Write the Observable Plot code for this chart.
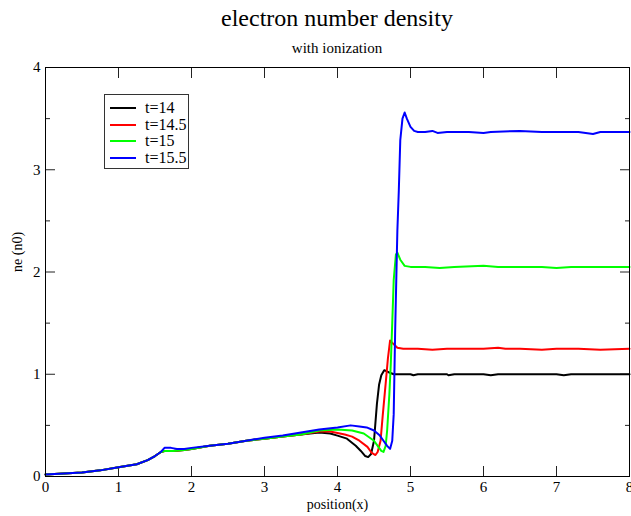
<!DOCTYPE html>
<html>
<head>
<meta charset="utf-8">
<script src="https://cdn.jsdelivr.net/npm/d3@7"></script>
<script src="https://cdn.jsdelivr.net/npm/@observablehq/plot@0.6"></script>
<style>
  body { margin: 0; background: #fff; font-family: 'Liberation Serif', 'Times New Roman', serif; }
  #wrap { position: relative; width: 631px; height: 516px; overflow: hidden; }
  #title { position: absolute; left: 45px; width: 584px; top: 4px; text-align: center; font-size: 24px; line-height: 28px; color: #000; }
  #subtitle { position: absolute; left: 45px; width: 584px; top: 39px; text-align: center; font-size: 15px; line-height: 18px; color: #000; }
  #chart { position: absolute; left: 0; top: 60px; }
  #legend { position: absolute; left: 104px; top: 94px; width: 85px; height: 75px; border: 1px solid #333; background: #fff; box-sizing: border-box; }
  .row { position: absolute; left: 0; height: 16px; width: 85px; }
  .sw { position: absolute; left: 5px; width: 26px; height: 2px; top: 7px; }
  .lb { position: absolute; left: 40px; top: -1px; font-family: 'Liberation Serif', 'Times New Roman', serif; font-size: 16px; line-height: 18px; color: #000; white-space: nowrap; }
</style>
</head>
<body>
<div id="wrap">
  <div id="title">electron number density</div>
  <div id="subtitle">with ionization</div>
  <div id="chart"></div>
  <div id="legend"></div>
</div>
<script>
// ---- data ----
const series = ["t=14", "t=14.5", "t=15", "t=15.5"];
const colors = ["#000000", "#ff0000", "#00ff00", "#0000ff"];
const xTicks = [0, 1, 2, 3, 4, 5, 6, 7, 8];
const yTicks = [0, 1, 2, 3, 4];
const yMinor = [0.5, 1.5, 2.5, 3.5];

// common rising part (all times)
const xBase = [0, 0.25, 0.5, 0.75, 1.0, 1.25, 1.4, 1.5, 1.58];
const nBase = [0.02, 0.03, 0.04, 0.06, 0.09, 0.12, 0.16, 0.20, 0.24];

// middle part, t = 14, 14.5, 15
const xMid = [1.63, 1.75, 1.9, 2.0, 2.25, 2.5, 2.75, 3.0, 3.25, 3.5];
const nMid = [0.25, 0.25, 0.26, 0.27, 0.30, 0.32, 0.35, 0.37, 0.39, 0.41];
// middle part, t = 15.5
const xMidB = [1.63, 1.72, 1.8, 1.9, 2.0, 2.25, 2.5, 2.75, 3.0, 3.25, 3.5];
const nMidB = [0.28, 0.28, 0.27, 0.27, 0.28, 0.30, 0.32, 0.35, 0.38, 0.40, 0.43];

// shock region and plateau
const x14 = [3.75, 3.9, 4.0, 4.13, 4.25, 4.32, 4.38, 4.42, 4.46, 4.50, 4.54, 4.57, 4.60, 4.64, 4.70, 4.77, 5.0, 5.04, 5.1, 5.3, 5.5, 5.52, 5.6, 6.0, 6.1, 6.2, 6.5, 7.0, 7.1, 7.2, 7.5, 8.0];
const n14 = [0.43, 0.42, 0.40, 0.37, 0.30, 0.25, 0.20, 0.19, 0.22, 0.35, 0.71, 0.90, 0.99, 1.04, 1.02, 1.00, 1.00, 0.99, 1.00, 1.00, 1.00, 0.99, 1.00, 1.00, 0.99, 1.00, 1.00, 1.00, 0.99, 1.00, 1.00, 1.00];

const x145 = [3.75, 3.9, 4.1, 4.2, 4.3, 4.41, 4.47, 4.52, 4.55, 4.59, 4.62, 4.66, 4.69, 4.72, 4.76, 4.82, 4.9, 5.1, 5.3, 5.5, 5.7, 6.0, 6.2, 6.3, 6.5, 6.8, 7.0, 7.3, 7.6, 8.0];
const n145 = [0.44, 0.44, 0.41, 0.39, 0.35, 0.29, 0.23, 0.21, 0.24, 0.35, 0.60, 0.91, 1.15, 1.33, 1.30, 1.26, 1.25, 1.25, 1.24, 1.25, 1.25, 1.25, 1.26, 1.25, 1.25, 1.24, 1.25, 1.25, 1.24, 1.25];

const x15 = [3.75, 4.0, 4.2, 4.36, 4.5, 4.56, 4.6, 4.63, 4.66, 4.68, 4.71, 4.73, 4.75, 4.77, 4.80, 4.82, 4.86, 4.92, 5.0, 5.2, 5.4, 5.6, 6.0, 6.2, 6.5, 6.8, 7.0, 7.2, 7.5, 8.0];
const n15 = [0.45, 0.46, 0.45, 0.42, 0.35, 0.29, 0.25, 0.24, 0.30, 0.45, 0.80, 1.10, 1.50, 1.92, 2.17, 2.19, 2.12, 2.06, 2.05, 2.05, 2.04, 2.05, 2.06, 2.05, 2.05, 2.05, 2.04, 2.05, 2.05, 2.05];

const x155 = [3.75, 4.0, 4.18, 4.3, 4.4, 4.5, 4.58, 4.63, 4.68, 4.72, 4.75, 4.77, 4.79, 4.82, 4.84, 4.86, 4.89, 4.92, 4.95, 5.0, 5.05, 5.1, 5.2, 5.3, 5.37, 5.5, 5.6, 5.8, 6.0, 6.1, 6.5, 6.8, 7.0, 7.3, 7.5, 7.6, 8.0];
const n155 = [0.46, 0.48, 0.50, 0.49, 0.48, 0.45, 0.40, 0.35, 0.30, 0.27, 0.35, 0.61, 1.43, 2.40, 2.80, 3.29, 3.50, 3.56, 3.50, 3.42, 3.38, 3.37, 3.37, 3.38, 3.36, 3.37, 3.37, 3.37, 3.36, 3.37, 3.38, 3.37, 3.37, 3.37, 3.35, 3.37, 3.37];

const xs = [
  [...xBase, ...xMid, ...x14],
  [...xBase, ...xMid, ...x145],
  [...xBase, ...xMid, ...x15],
  [...xBase, ...xMidB, ...x155]
];
const ns = [
  [...nBase, ...nMid, ...n14],
  [...nBase, ...nMid, ...n145],
  [...nBase, ...nMid, ...n15],
  [...nBase, ...nMidB, ...n155]
];

const rows = series.flatMap((s, i) => xs[i].map((x, j) => ({x, n: ns[i][j], s})));

const chart = Plot.plot({
  width: 631,
  height: 456,
  marginLeft: 45,
  marginRight: 2,
  marginTop: 7,
  marginBottom: 40,
  x: {domain: [0, 8]},
  y: {domain: [0, 4]},
  color: {domain: series, range: colors},
  style: {fontFamily: "'Liberation Serif', 'Times New Roman', serif", fontSize: "15px", color: "#000", background: "#fff", overflow: "visible"},
  marks: [
    Plot.axisX({ticks: xTicks, tickSize: 0, tickPadding: 5, label: null, tickFormat: d => String(d)}),
    Plot.axisX({ticks: xTicks, tickSize: -10, text: null, label: null, stroke: "#222"}),
    Plot.axisX({anchor: "top", ticks: xTicks, tickSize: -10, text: null, label: null, stroke: "#222"}),
    Plot.axisY({ticks: yTicks, tickSize: 0, tickPadding: 5, label: null, tickFormat: d => String(d)}),
    Plot.axisY({ticks: yTicks, tickSize: -10, text: null, label: null, stroke: "#222"}),
    Plot.axisY({ticks: yMinor, tickSize: -5, text: null, label: null, stroke: "#222"}),
    Plot.axisY({anchor: "right", ticks: yTicks, tickSize: -10, text: null, label: null, stroke: "#222"}),
    Plot.axisY({anchor: "right", ticks: yMinor, tickSize: -5, text: null, label: null, stroke: "#222"}),
    Plot.line(rows, {x: "x", y: "n", z: "s", stroke: "s", strokeWidth: 2, strokeLinejoin: "round"}),
    Plot.frame({stroke: "#000", strokeWidth: 1}),
    Plot.text(["position(x)"], {frameAnchor: "bottom", dy: 32, fontSize: 14}),
    Plot.text(["ne (n0)"], {frameAnchor: "left", dx: -28, rotate: -90, fontSize: 14})
  ]
});
document.getElementById("chart").appendChild(chart);

// legend
const legend = document.getElementById("legend");
series.forEach((s, i) => {
  const row = document.createElement("div");
  row.className = "row";
  row.style.top = (5 + i * 16.7) + "px";
  const sw = document.createElement("div");
  sw.className = "sw";
  sw.style.background = colors[i];
  const lb = document.createElement("div");
  lb.className = "lb";
  lb.textContent = s;
  row.appendChild(sw);
  row.appendChild(lb);
  legend.appendChild(row);
});
</script>
</body>
</html>
